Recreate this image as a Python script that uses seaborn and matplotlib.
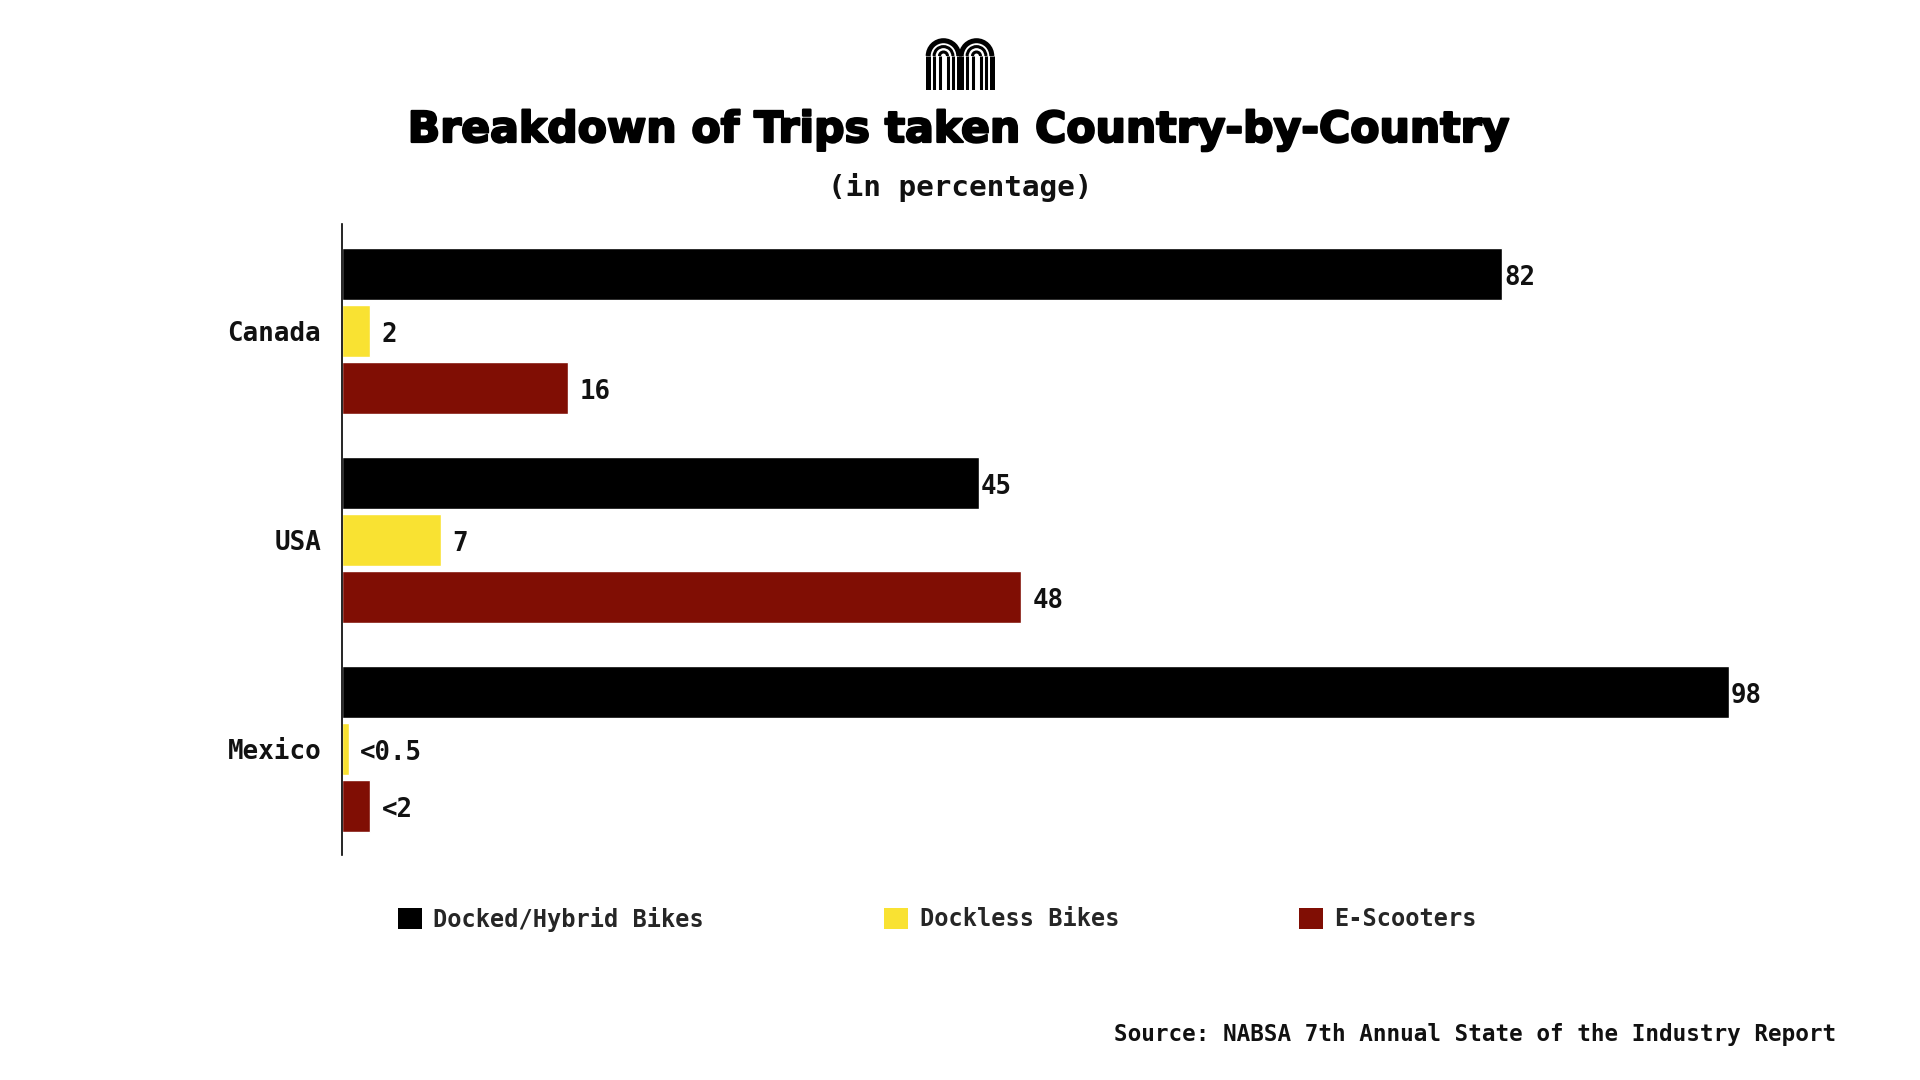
import matplotlib
matplotlib.use("Agg")
import matplotlib.pyplot as plt
import matplotlib.patheffects as pe
import pandas as pd
import seaborn as sns
from matplotlib.patches import Arc, Patch

countries = ["Canada", "USA", "Mexico"]
modes = ["Docked/Hybrid Bikes", "Dockless Bikes", "E-Scooters"]
docked = [82, 45, 98]
dockless = [2, 7, 0.5]
scooters = [16, 48, 2]
docked_labels = ["82", "45", "98"]
dockless_labels = ["2", "7", "<0.5"]
scooter_labels = ["16", "48", "<2"]
colors = ["#000000", "#F9E232", "#800E04"]

MONO = "DejaVu Sans Mono"

df = pd.DataFrame({
    "country": countries * 3,
    "mode": [m for m in modes for _ in countries],
    "value": docked + dockless + scooters,
})

sns.set_theme(style="white")
plt.rcParams["font.family"] = [MONO]

fig = plt.figure(figsize=(19.2, 10.8), dpi=100)
fig.patch.set_facecolor("white")

ax = fig.add_axes([342 / 1920, 1 - 855 / 1080, 1415 / 1920, 631 / 1080])
sns.barplot(data=df, x="value", y="country", hue="mode", hue_order=modes,
            order=countries, palette=colors, width=0.82, gap=0.09,
            saturation=1, legend=False, ax=ax)

ax.set_xlim(0, 100)
ax.set_ylim(2.507, -0.512)
ax.set_xlabel("")
ax.set_ylabel("")
ax.set_xticks([])
ax.tick_params(axis="y", length=0, pad=15)
for lab in ax.get_yticklabels():
    lab.set_fontsize(18.6)
    lab.set_fontweight("bold")
    lab.set_color("#111111")
for side in ["top", "right", "bottom"]:
    ax.spines[side].set_visible(False)
ax.spines["left"].set_color("black")
ax.spines["left"].set_linewidth(1.2)

all_labels = [docked_labels, dockless_labels, scooter_labels]
paddings = [1.5, 8, 8]
for cont, labs, pad in zip(ax.containers, all_labels, paddings):
    texts = ax.bar_label(cont, labels=labs, padding=pad, fontsize=18.5,
                         fontweight="bold", color="#111111")
    for t in texts:
        t.xyann = (pad, -3)

# title block, sized to span the same width as the original
title = fig.text(0.5, 1 - 130 / 1080, "Breakdown of Trips taken Country-by-Country",
                 ha="center", va="center", fontsize=30, fontweight="bold",
                 family=["DejaVu Sans"], color="black")
renderer = fig.canvas.get_renderer()
w = title.get_window_extent(renderer).width
title.set_fontsize(30 * 1100 / w)
title.set_path_effects([pe.withStroke(linewidth=1.6, foreground="black")])

fig.text(0.5, 1 - 187 / 1080, "(in percentage)", ha="center", va="center",
         fontsize=21.2, fontweight="bold", color="#111111")

# small logo
lax = fig.add_axes([925 / 1920, 1 - 90 / 1080, 70 / 1920, 52 / 1080])
lax.set_xlim(925, 995)
lax.set_ylim(90, 38)
lax.axis("off")
for cx in [943.5, 976.5]:
    for r, lw in [(15.3, 3.6), (9.4, 2.2), (4.0, 2.2)]:
        lax.add_patch(Arc((cx, 56), 2 * r, 2 * r, theta1=180, theta2=360,
                          lw=lw, color="black"))
        lax.plot([cx - r, cx - r], [56, 90], color="black", lw=lw,
                 solid_capstyle="butt")
        lax.plot([cx + r, cx + r], [56, 90], color="black", lw=lw,
                 solid_capstyle="butt")

# legend
handles = [Patch(facecolor=c, edgecolor="none", label=m) for c, m in zip(colors, modes)]
fig.legend(handles=handles, loc="center left",
           bbox_to_anchor=(398 / 1920, 1 - 919 / 1080), ncol=3, frameon=False,
           prop={"family": MONO, "weight": "bold", "size": 17},
           handlelength=1, handleheight=1, handletextpad=0.5,
           columnspacing=7.62, borderpad=0, borderaxespad=0)

fig.text(1836 / 1920, 1 - 1035 / 1080,
         "Source: NABSA 7th Annual State of the Industry Report",
         ha="right", va="center", fontsize=16.25, fontweight="bold",
         color="#111111")

fig.savefig("out.png", dpi=100, facecolor="white")
plt.close(fig)
